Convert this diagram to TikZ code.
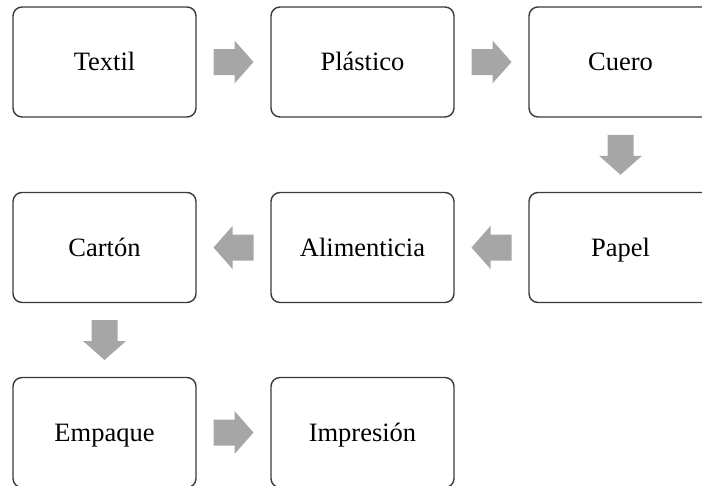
\documentclass[tikz,border=0pt]{standalone}
\usepackage{fontspec}
\setmainfont{Liberation Serif}
\usetikzlibrary{calc}
\definecolor{boxline}{HTML}{3A3A3A}
\definecolor{arrowgray}{HTML}{A6A6A6}
\begin{document}
\begin{tikzpicture}[x=1pt,y=-1pt,
  stage/.style={draw=boxline, line width=1.4pt, fill=white, rounded corners=9pt,
    minimum width=183pt, minimum height=110pt, inner sep=0pt,
    text height=18.5pt, text depth=1.5pt,
    font=\fontsize{26.5}{30}\selectfont},
  blockarrow/.pic={\fill[arrowgray] (-20,-13) -- (1,-13) -- (1,-21.5) -- (20,0)
    -- (1,21.5) -- (1,13) -- (-20,13) -- cycle;}]
\useasboundingbox (0,0) rectangle (702,485);
\begin{scope}
\clip (0,0) rectangle (702,485);
% first row
\node[stage] (textil)   at (104.5,62) {Textil};
\node[stage] (plastico) at (362.5,62) {Plástico};
\node[stage] (cuero)    at (620.5,62) {Cuero};
% second row
\node[stage] (carton)      at (104.5,247.5) {Cartón};
\node[stage] (alimenticia) at (362.5,247.5) {Alimenticia};
\node[stage] (papel)       at (620.5,247.5) {Papel};
% third row
\node[stage] (empaque)   at (104.5,432.5) {Empaque};
\node[stage] (impresion) at (362.5,432.5) {Impresión};
\end{scope}
% flow arrows
\pic at ($(textil.east)!0.5!(plastico.west)$) {blockarrow};
\pic at ($(plastico.east)!0.5!(cuero.west)$) {blockarrow};
\pic[rotate=-90] at ($(cuero.south)!0.5!(papel.north)$) {blockarrow};
\pic[rotate=180] at ($(papel.west)!0.5!(alimenticia.east)$) {blockarrow};
\pic[rotate=180] at ($(alimenticia.west)!0.5!(carton.east)$) {blockarrow};
\pic[rotate=-90] at ($(carton.south)!0.5!(empaque.north)$) {blockarrow};
\pic at ($(empaque.east)!0.5!(impresion.west)$) {blockarrow};
\end{tikzpicture}
\end{document}
